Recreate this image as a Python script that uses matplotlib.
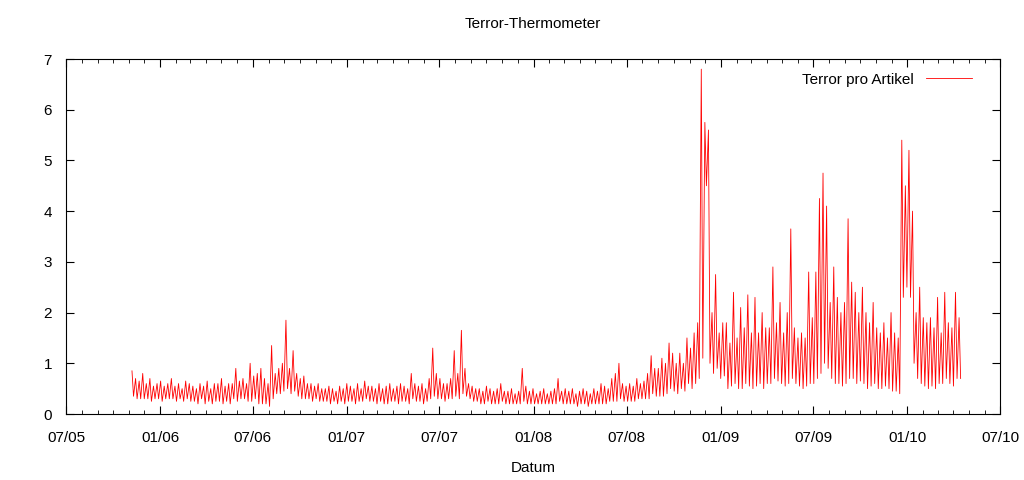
import matplotlib
matplotlib.use("Agg")
import matplotlib.pyplot as plt
import matplotlib.dates as mdates
import pandas as pd
import numpy as np

plt.rcParams['font.family'] = ['Liberation Sans', 'DejaVu Sans']

start = "2005-11-07"
highs = [.85,.7,.65, .8,.6,.7,.55, .6,.65,.55,.6,
 .7,.55,.6,.5,.65, .6,.55,.5,.6, .55,.65,.5,.6, .6,.7,.55,.6, .6,.9,.65,.7,.6, 1.0,.75,.8,.9,
 .7,.6,1.35,.8, .9,1.0,1.85,.9,1.25, .8,.7,.75,.6, .6,.55,.6,.5, .5,.55,.5,.45, .55,.5,.6,.55,.5,
 .6,.5,.65,.55, .55,.5,.6,.5, .55,.6,.5,.55, .6,.55,.5,.8,.6, .55,.6,.5,.7, 1.3,.8,.7,.6,
 .6,.7,1.25,.8, 1.65,.9,.6,.55,.5, .5,.45,.55,.5, .45,.5,.6,.45, .45,.5,.4,.45,.9, .55,.45,.5,.4,
 .45,.5,.4,.45, .5,.7,.45,.5, .45,.5,.4,.45,.5, .45,.4,.5,.45, .6,.55,.5,.7, .8,1.0,.6,.55,
 .6,.55,.7,.6,.65, .8,1.15,.9,.9, 1.1,1.0,1.4,1.2,1.0, 1.2,1.0,1.5,1.3, 1.6,1.8,6.8,5.75, 5.6,2.0,2.75,1.6,1.8,
 1.8,1.4,2.4,1.5, 2.1,1.7,2.35,1.6, 2.3,1.6,2.0,1.7, 1.7,2.9,1.8,2.2,1.6, 2.0,3.65,1.7,1.5, 1.6,1.5,2.8,1.9,
 2.8,4.25,4.75,4.1,2.2, 2.9,2.3,2.0,2.2, 3.85,2.6,2.4,2.0, 2.5,2.0,1.8,2.2,1.7, 1.6,1.8,1.5,2.0, 1.6,1.5,5.4,4.5,
 5.2,4.0,2.0,2.5,1.9, 1.8,1.9,1.7,2.3, 1.6,2.4,1.8,1.7, 2.4,1.9]
lows = [.35,.3,.3, .3,.3,.25,.3, .3,.25,.3,.3,
 .3,.25,.3,.25,.3, .25,.25,.2,.3, .2,.25,.2,.25, .25,.2,.25,.2, .3,.25,.3,.3,.25, .25,.3,.2,.2,
 .2,.15,.3,.4, .4,.45,.5,.4,.45, .35,.3,.3,.3, .25,.3,.25,.25, .25,.2,.25,.2, .25,.2,.25,.25,.2,
 .25,.25,.3,.25, .25,.2,.25,.2, .2,.25,.25,.2, .25,.25,.2,.3,.25, .25,.2,.25,.3, .35,.3,.3,.25,
 .3,.3,.35,.3, .4,.35,.3,.25,.25, .2,.2,.25,.2, .2,.2,.25,.2, .2,.2,.2,.2,.25, .2,.2,.2,.2,
 .2,.2,.2,.2, .2,.25,.2,.2, .2,.2,.15,.2,.2, .15,.2,.2,.2, .2,.2,.25,.25, .25,.3,.25,.25,
 .25,.25,.3,.3,.3, .3,.4,.35,.35, .35,.4,.5,.45,.4, .5,.45,.6,.5, .6,.7,1.1,4.5, 1.0,.8,.9,.7,.75,
 .5,.55,.6,.5, .5,.6,.55,.5, .55,.6,.5,.6, .6,.7,.65,.6,.55, .6,.7,.6,.55, .5,.55,.6,.6,
 .7,.8,1.0,.9,.7, .6,.6,.55,.6, .7,.7,.6,.65, .6,.5,.55,.6,.5, .5,.55,.5,.45, .45,.4,2.3,2.5,
 2.3,1.0,.7,.6,.55, .5,.55,.5,.6, .6,.7,.6,.55, .7,.7]
n = min(len(highs), len(lows))
weeks = pd.date_range(start, periods=n, freq="7D")
xs, ys = [], []
for i in range(n):
    xs += [weeks[i], weeks[i] + pd.Timedelta(days=3)]
    ys += [highs[i], lows[i]]

fig = plt.figure(figsize=(10.24, 4.8), dpi=100)
ax = fig.add_axes([66/1024, 1-414/480, 934/1024, 355/480])
ax.plot(xs, ys, color="red", lw=0.6, label="Terror pro Artikel")
ax.set_xlim(pd.Timestamp("2005-07-01"), pd.Timestamp("2010-07-01"))
ax.set_ylim(0, 7)
ax.xaxis.set_major_locator(mdates.MonthLocator(bymonth=[1, 7]))
ax.xaxis.set_major_formatter(mdates.DateFormatter("%m/%y"))
ax.xaxis.set_minor_locator(mdates.MonthLocator())
ax.tick_params(direction="in", top=True, right=True, which="both", labelsize=11)
ax.tick_params(which="major", length=6)
ax.tick_params(which="minor", length=3)
ax.tick_params(axis="x", pad=12)
ax.tick_params(axis="y", pad=10)
ax.set_xlabel("Datum", fontsize=11, labelpad=12)
ax.set_title("Terror-Thermometer", fontsize=11, pad=22)
leg = ax.legend(loc="upper right", frameon=False, fontsize=11, markerfirst=False,
                handlelength=3, bbox_to_anchor=(0.985, 1.0))
fig.savefig("out.png", dpi=100)
